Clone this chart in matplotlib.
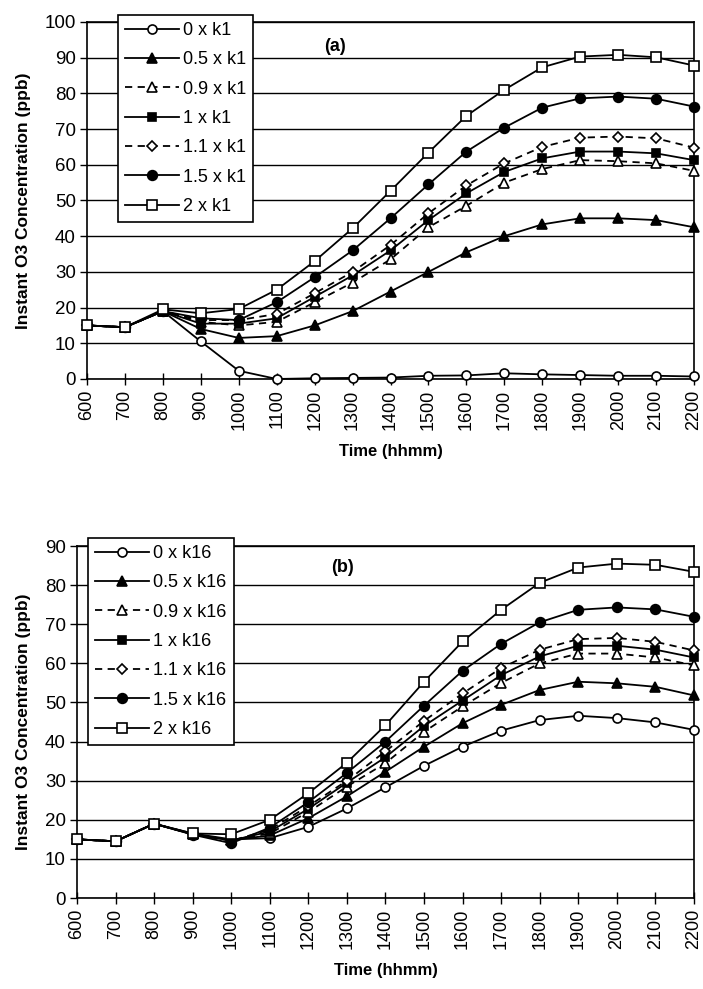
import matplotlib
matplotlib.use("Agg")
import matplotlib.pyplot as plt

plt.rcParams['font.family'] = ['Liberation Sans', 'DejaVu Sans']

times = [600, 700, 800, 900, 1000, 1100, 1200, 1300, 1400, 1500, 1600,
         1700, 1800, 1900, 2000, 2100, 2200]
time_labels = [str(t) for t in times]

labels_a = ["0 x k1", "0.5 x k1", "0.9 x k1", "1 x k1", "1.1 x k1", "1.5 x k1", "2 x k1"]
a_k0 = [15, 14.5, 19, 10.5, 2.3, 0, 0.2, 0.3, 0.4, 0.9, 1.0, 1.6, 1.3, 1.1, 0.9, 0.9, 0.7]
a_k05 = [15, 14.5, 19, 14, 11.5, 12, 15, 19, 24.5, 30, 35.5, 40, 43.3, 45, 45, 44.5, 42.5]
a_k09 = [15, 14.5, 19, 16, 15, 16, 21.5, 27, 33.5, 42.5, 48.5, 55, 58.8, 61.3, 61, 60.4, 58.3]
a_k1 = [15, 14.5, 19, 15.5, 15.5, 17, 23, 29, 36, 44.5, 52, 58, 61.8, 63.7, 63.7, 63.2, 61.3]
a_k11 = [15, 14.5, 19, 16.5, 16.5, 18.2, 24, 30, 37.5, 46.4, 54.2, 60.4, 65, 67.6, 67.9, 67.4, 64.8]
a_k15 = [15, 14.5, 19, 17, 16.5, 21.5, 28.5, 36, 45, 54.5, 63.7, 70.4, 76, 78.6, 79.1, 78.5, 76.3]
a_k2 = [15, 14.5, 19.5, 18.4, 19.6, 25, 33, 42.2, 52.7, 63.4, 73.7, 81, 87.3, 90.3, 90.8, 90.1, 87.8]

labels_b = ["0 x k16", "0.5 x k16", "0.9 x k16", "1 x k16", "1.1 x k16", "1.5 x k16", "2 x k16"]
b_k0 = [15, 14.5, 19, 16.5, 15, 15.3, 18.2, 22.9, 28.3, 33.8, 38.7, 42.8, 45.5, 46.6, 46, 44.9, 43]
b_k05 = [15, 14.5, 19, 16.3, 14.8, 16, 20.4, 26, 32.3, 38.7, 44.7, 49.4, 53.2, 55.3, 54.9, 54, 51.8]
b_k09 = [15, 14.5, 19, 16.3, 14.8, 16.5, 22, 28.5, 34.5, 42.5, 49, 55, 60, 62.5, 62.5, 61.5, 59.5]
b_k1 = [15, 14.5, 19, 16.3, 14.7, 17, 22.8, 29.5, 36, 44, 50.5, 57, 61.8, 64.5, 64.5, 63.5, 61.5]
b_k11 = [15, 14.5, 19, 16.4, 14.6, 17.5, 23.5, 30, 37.5, 45.3, 52.3, 58.8, 63.5, 66.2, 66.5, 65.5, 63.3]
b_k15 = [15, 14.5, 19, 16.2, 14, 18, 24.5, 32, 40, 49.2, 58.1, 65, 70.5, 73.7, 74.3, 73.8, 71.9]
b_k2 = [15, 14.5, 19, 16.5, 16.3, 20, 26.8, 34.6, 44.2, 55.3, 65.6, 73.7, 80.6, 84.5, 85.5, 85.2, 83.4]

styles = [
    dict(marker='o', mfc='white', ls='-', ms=6.5),
    dict(marker='^', mfc='black', ls='-', ms=6.5),
    dict(marker='^', mfc='white', ls=(0, (4, 3)), ms=6.5),
    dict(marker='s', mfc='black', ls='-', ms=6),
    dict(marker='D', mfc='white', ls=(0, (4, 3)), ms=5),
    dict(marker='o', mfc='black', ls='-', ms=7),
    dict(marker='s', mfc='white', ls='-', ms=6.5),
]

narrow = ['Liberation Sans Narrow', 'Liberation Sans', 'DejaVu Sans']

fig = plt.figure(figsize=(7.03, 9.89), dpi=100)
ax_a = fig.add_axes([0.1238, 0.6168, 0.8634, 0.3610])
ax_b = fig.add_axes([0.1095, 0.0920, 0.8777, 0.3559])


def draw(ax, series, labels, ymax, tag, tagpos, legpos):
    x = list(range(len(times)))
    for vals, lab, st in zip(series, labels, styles):
        ax.plot(x, vals, color='black', lw=1.3, ls=st['ls'], marker=st['marker'],
                mfc=st['mfc'], mec='black', mew=1.2, ms=st['ms'], label=lab,
                clip_on=False, zorder=3)
    ax.set_xlim(0, len(times) - 1)
    ax.set_ylim(0, ymax)
    ax.set_yticks(range(0, ymax + 1, 10))
    ax.set_xticks(x)
    ax.set_xticklabels(time_labels, rotation=90)
    ax.grid(axis='y', color='black', lw=1.0)
    ax.set_axisbelow(True)
    for s in ax.spines.values():
        s.set_color('black')
        s.set_linewidth(1.2)
    ax.tick_params(axis='x', direction='inout', length=9, width=1.0, labelsize=13, pad=3)
    ax.tick_params(axis='y', direction='out', length=5, width=1.0, labelsize=13.5, pad=3)
    ax.set_xlabel("Time (hhmm)", fontsize=12, fontweight='bold', family=narrow, labelpad=10)
    ax.set_ylabel("Instant O3 Concentration (ppb)", fontsize=12.5, fontweight='bold',
                  family=narrow, labelpad=10)
    ax.text(tagpos[0], tagpos[1], tag, transform=ax.transAxes, fontsize=13,
            fontweight='bold', ha='center', va='center')
    leg = ax.legend(loc='upper left', bbox_to_anchor=legpos, fontsize=13,
                    frameon=True, fancybox=False, edgecolor='black', framealpha=1,
                    handlelength=3.0, labelspacing=0.68, borderpad=0.4,
                    handletextpad=0.2, borderaxespad=0)
    leg.get_frame().set_linewidth(1.2)


draw(ax_a, [a_k0, a_k05, a_k09, a_k1, a_k11, a_k15, a_k2], labels_a, 100,
     "(a)", (0.409, 0.93), (0.051, 1.0196))
draw(ax_b, [b_k0, b_k05, b_k09, b_k1, b_k11, b_k15, b_k2], labels_b, 90,
     "(b)", (0.43, 0.94), (0.018, 1.023))

fig.savefig("out.png", dpi=100)
